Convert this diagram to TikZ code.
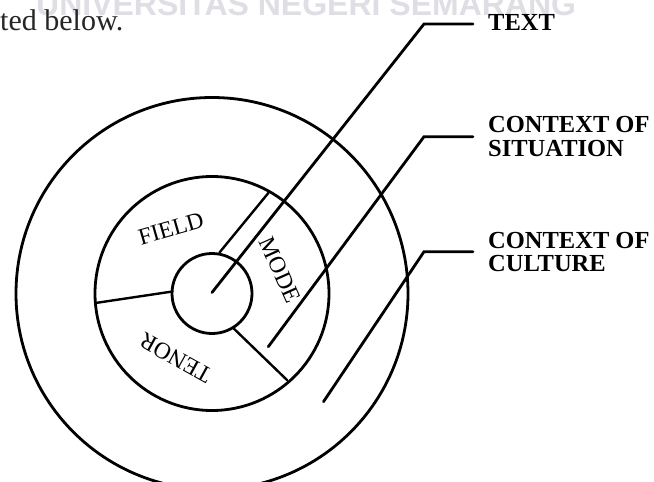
\documentclass[tikz,border=0pt]{standalone}
\usepackage{fontspec}
\setmainfont{Liberation Serif}
\newfontfamily\wmfont{Liberation Sans}
\begin{document}
\begin{tikzpicture}[x=1pt,y=-1pt,
  ring/.style={line width=2.8pt},
  divider/.style={line width=2.4pt, line cap=round},
  pointer/.style={line width=2.8pt, line cap=round, line join=miter},
  lbl/.style={font=\fontsize{24.5}{24.5}\selectfont\bfseries, anchor=base west, inner sep=0pt},
  part/.style={font=\fontsize{23.5}{23.5}\selectfont, inner sep=0pt, anchor=center},
  headline/.style={font=\fontsize{30}{30}\selectfont, anchor=base west, inner sep=0pt, text=black!85},
  watermark/.style={font=\wmfont\bfseries\fontsize{32}{32}\selectfont, anchor=base west, inner sep=0pt, text={rgb,255:red,222;green,222;blue,228}}]
\clip (0,0) rectangle (654,482);

% page fragment above the figure
\node[watermark] (wm) at (36,15.5) {UNIVERSITAS NEGERI SEMARANG};
\node[headline] (head) at (0,30.7) {ted below.};

% concentric circles: culture, situation, text
\coordinate (c) at (212,293.5);
\draw[ring] (c) circle[radius=196];
\draw[ring] (c) circle[radius=117];
\draw[ring] (c) circle[radius=40];

% boundaries between field, tenor and mode
\coordinate (d1a) at (95.5,303);   \coordinate (d1b) at (172.4,291.5);
\coordinate (d2a) at (219.5,252.5); \coordinate (d2b) at (268.5,192.8);
\coordinate (d3a) at (233.5,328.3); \coordinate (d3b) at (287,380);
\draw[divider] (d1a) -- (d1b);
\draw[divider] (d2a) -- (d2b);
\draw[divider] (d3a) -- (d3b);

% register labels in the middle ring
\node[part, rotate=16]  (field) at (171,229)   {FIELD};
\node[part, rotate=-66] (mode)  at (280,270)   {MODE};
\node[part, rotate=151] (tenor) at (175.7,358) {TENOR};

% outer labels
\node[lbl] (textLbl) at (488,30.7)  {TEXT};
\node[lbl] (sitA)    at (488,132.3) {CONTEXT OF};
\node[lbl] (sitB)    at (488,156.7) {SITUATION};
\node[lbl] (culA)    at (488,248.3) {CONTEXT OF};
\node[lbl] (culB)    at (488,271.7) {CULTURE};

% leader lines
\coordinate (textTip) at (212,292.5);  \coordinate (textBend) at (424,24);    \coordinate (textEnd) at (473,24);
\coordinate (sitTip)  at (268.3,346.7); \coordinate (sitBend) at (424,136.7); \coordinate (sitEnd) at (473,136.7);
\coordinate (culTip)  at (323.5,401.7); \coordinate (culBend) at (424,251.7); \coordinate (culEnd) at (473,251.7);
\draw[pointer] (textTip) -- (textBend) -- (textEnd);
\draw[pointer] (sitTip) -- (sitBend) -- (sitEnd);
\draw[pointer] (culTip) -- (culBend) -- (culEnd);
\end{tikzpicture}
\end{document}
